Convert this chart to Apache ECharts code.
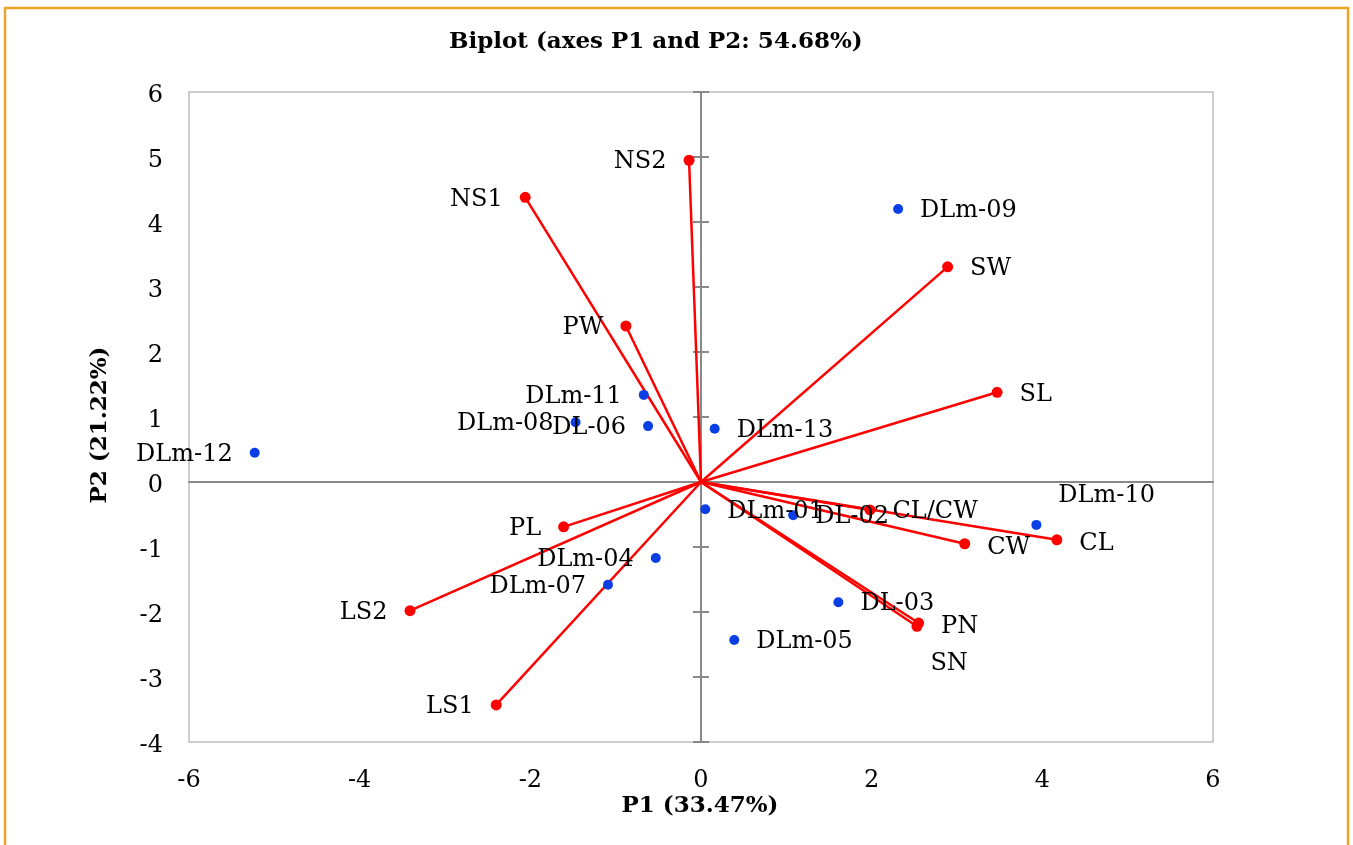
<!DOCTYPE html>
<html><head><meta charset="utf-8">
<script src="https://cdn.jsdelivr.net/npm/echarts@6/dist/echarts.min.js"></script>
<style>html,body{margin:0;padding:0;background:#fff}#c{width:1353px;height:845px}</style>
</head><body><div id="c"></div>
<script>
// Variables (red vectors)
const varNames = ['NS1','NS2','PW','SW','SL','CL/CW','CL','CW','PN','SN','PL','LS2','LS1'];
const varP1 = [-2.06,-0.14,-0.88,2.89,3.47,1.98,4.17,3.09,2.55,2.53,-1.61,-3.41,-2.40];
const varP2 = [4.38,4.95,2.40,3.31,1.38,-0.43,-0.89,-0.95,-2.17,-2.22,-0.69,-1.98,-3.43];
// Observations (blue points)
const obsNames = ['DLm-01','DL-02','DL-03','DLm-04','DLm-05','DL-06','DLm-07','DLm-08','DLm-09','DLm-10','DLm-11','DLm-12','DLm-13'];
const obsP1 = [0.05,1.08,1.61,-0.53,0.39,-0.62,-1.09,-1.47,2.31,3.93,-0.67,-5.23,0.16];
const obsP2 = [-0.42,-0.51,-1.85,-1.17,-2.43,0.86,-1.58,0.92,4.20,-0.66,1.34,0.45,0.82];
// Axis ranges
const xRange = [-6, 6], xStep = 2;
const yRange = [-4, 6], yStep = 1;
const titleText = 'Biplot (axes P1 and P2: 54.68%)';
const xTitle = 'P1 (33.47%)';
const yTitle = 'P2 (21.22%)';

// label placement (style only)
const leftLabels = new Set(['NS1','NS2','PW','PL','LS2','LS1','DLm-04','DLm-07','DLm-08','DL-06','DLm-11','DLm-12']);
const labelOffsets = {'DLm-10':[0,-29],'SN':[-9,37],'CW':[0,4],'CL':[0,4],'PN':[0,4]};

const FONT = 'DejaVu Serif';
function mkLabel(name){
  const o = {show:true, formatter:name, position: leftLabels.has(name)?'left':'right', distance:17,
    fontFamily:FONT, fontSize:24, color:'#000', opacity:1, textBorderWidth:0};
  o.offset = labelOffsets[name] || [0,2];
  return o;
}
const varPoints = varNames.map((n,i)=>({name:n, value:[varP1[i],varP2[i]], label:mkLabel(n)}));
const obsPoints = obsNames.map((n,i)=>({name:n, value:[obsP1[i],obsP2[i]], label:mkLabel(n)}));
const vecLines = varNames.map((n,i)=>({coords:[[0,0],[varP1[i],varP2[i]]]}));

const chart = echarts.init(document.getElementById('c'), null, {renderer:'canvas'});
const zeroLine = {color:'#898989', width:2};
chart.setOption({
  backgroundColor:'#fff',
  animation:false,
  title:{text:titleText, left:449, top:31, padding:0,
    textStyle:{fontFamily:FONT, fontWeight:'bold', fontSize:23, color:'#000'}},
  grid:{left:189, right:140, top:92, bottom:103, show:true, borderColor:'#BFBFBF', borderWidth:1.5, backgroundColor:'transparent', outerBoundsMode:'none'},
  xAxis:[
    {type:'value', min:xRange[0], max:xRange[1], interval:xStep, position:'bottom',
     axisLine:{show:false,onZero:false}, axisTick:{show:false}, splitLine:{show:false},
     axisLabel:{fontFamily:FONT, fontSize:24, color:'#000', margin:27}},
    {type:'value', min:xRange[0], max:xRange[1], interval:xStep, position:'bottom',
     axisLine:{show:true,onZero:true,onZeroAxisIndex:0,lineStyle:zeroLine}, axisTick:{show:false},
     axisLabel:{show:false}, splitLine:{show:false}}
  ],
  yAxis:[
    {type:'value', min:yRange[0], max:yRange[1], interval:yStep, position:'left',
     axisLine:{show:false,onZero:false}, axisTick:{show:false}, splitLine:{show:false},
     axisLabel:{color:'#000', margin:26, formatter:v=>'{v|'+v+'}',
       rich:{v:{fontFamily:FONT, fontSize:24, color:'#000', padding:[8,0,0,0]}}}},
    {type:'value', min:yRange[0], max:yRange[1], interval:yStep, position:'left',
     axisLine:{show:true,onZero:true,onZeroAxisIndex:0,lineStyle:zeroLine},
     axisTick:{show:true,inside:true,length:8,lineStyle:zeroLine},
     axisLabel:{show:false}, splitLine:{show:false}},
    {type:'value', min:yRange[0], max:yRange[1], interval:yStep, position:'left',
     axisLine:{show:true,onZero:true,onZeroAxisIndex:0,lineStyle:zeroLine},
     axisTick:{show:true,inside:false,length:8,lineStyle:zeroLine},
     axisLabel:{show:false}, splitLine:{show:false}}
  ],
  series:[
    {type:'lines', coordinateSystem:'cartesian2d', xAxisIndex:0, yAxisIndex:0, z:3,
     lineStyle:{color:'#FF0000', width:2.5, opacity:1, curveness:0}, symbol:'none', data:vecLines, silent:true},
    {type:'scatter', name:'Variables', xAxisIndex:0, yAxisIndex:0, z:4, symbol:'circle', symbolSize:11,
     itemStyle:{color:'#FF0000', opacity:1}, data:varPoints},
    {type:'scatter', name:'Observations', xAxisIndex:0, yAxisIndex:0, z:5, symbol:'circle', symbolSize:10,
     itemStyle:{color:'#0A3FE6', opacity:1}, data:obsPoints}
  ],
  graphic:[
    {type:'rect', silent:true, z:-10, shape:{x:5,y:8,width:1343,height:860},
     style:{fill:'none', stroke:'#EBA32A', lineWidth:2.5}},
    {type:'text', x:700, y:806, silent:true,
     style:{text:xTitle, fontFamily:FONT, fontWeight:'bold', fontSize:23, fill:'#000', align:'center', verticalAlign:'middle'}},
    {type:'text', x:100, y:425, rotation:Math.PI/2, silent:true,
     style:{text:yTitle, fontFamily:FONT, fontWeight:'bold', fontSize:23, fill:'#000', align:'center', verticalAlign:'middle'}}
  ]
});
</script></body></html>
